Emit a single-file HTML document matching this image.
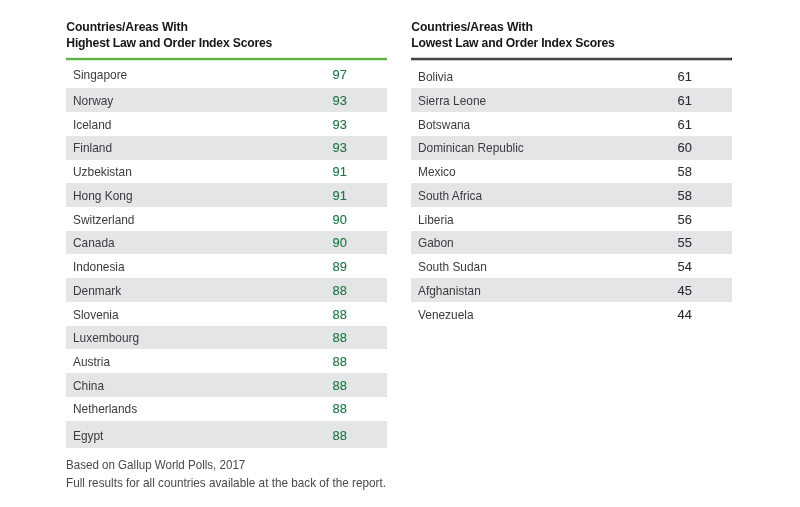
<!DOCTYPE html>
<html><head><meta charset="utf-8"><style>
html,body{margin:0;padding:0;background:#fff;}
body{width:800px;height:507px;position:relative;overflow:hidden;font-family:"Liberation Sans",Arial,sans-serif;}
.t{position:absolute;white-space:nowrap;font-size:12.4px;line-height:16px;}
.c,.f{transform:scaleX(0.96);transform-origin:0 0;}
.c{color:#3b3b3e;}
.n{font-size:12.9px;}
.g{color:#1c7545;-webkit-text-stroke:0.1px #1c7545;}
.k{color:#2d2d31;-webkit-text-stroke:0.08px #2d2d31;}
.h{font-weight:bold;color:#16161a;font-size:12.2px;}
.f{color:#4a4a4c;}
.band{position:absolute;background:#e4e5e7;}
.line{position:absolute;height:2px;}
</style></head><body>
<div class="t h" style="left:66.3px;top:19.00px;letter-spacing:-0.12px">Countries/Areas With</div>
<div class="t h" style="left:66.3px;top:35.20px;letter-spacing:-0.2px">Highest Law and Order Index Scores</div>
<div class="t h" style="left:411.3px;top:19.00px;letter-spacing:-0.12px">Countries/Areas With</div>
<div class="t h" style="left:411.3px;top:35.20px;letter-spacing:-0.2px">Lowest Law and Order Index Scores</div>
<div class="line" style="left:66px;top:57px;width:321px;height:4px;background:linear-gradient(#e2f1dd 0 25%,#5cb545 25% 75%,#d6ecd0 75%)"></div>
<div class="line" style="left:411px;top:57px;width:321px;height:4px;background:linear-gradient(#d2d2d5 0 25%,#45444a 25% 75%,#c6c6c9 75%)"></div>
<div class="line" style="left:731px;top:58px;width:1px;height:2px;background:#111"></div>
<div class="band" style="left:66px;top:88.40px;width:321px;height:23.73px"></div>
<div class="band" style="left:66px;top:135.86px;width:321px;height:23.73px"></div>
<div class="band" style="left:66px;top:183.32px;width:321px;height:23.73px"></div>
<div class="band" style="left:66px;top:230.78px;width:321px;height:23.73px"></div>
<div class="band" style="left:66px;top:278.24px;width:321px;height:23.73px"></div>
<div class="band" style="left:66px;top:325.70px;width:321px;height:23.73px"></div>
<div class="band" style="left:66px;top:373.16px;width:321px;height:23.73px"></div>
<div class="band" style="left:66px;top:420.62px;width:321px;height:27.88px"></div>
<div class="band" style="left:411px;top:88.40px;width:321px;height:23.73px"></div>
<div class="band" style="left:411px;top:135.86px;width:321px;height:23.73px"></div>
<div class="band" style="left:411px;top:183.32px;width:321px;height:23.73px"></div>
<div class="band" style="left:411px;top:230.78px;width:321px;height:23.73px"></div>
<div class="band" style="left:411px;top:278.24px;width:321px;height:23.73px"></div>
<div class="t c" style="left:72.60px;top:67.00px">Singapore</div>
<div class="t n g" style="left:332.60px;top:67.00px">97</div>
<div class="t c" style="left:72.60px;top:93.00px">Norway</div>
<div class="t n g" style="left:332.60px;top:93.00px">93</div>
<div class="t c" style="left:72.60px;top:117.00px">Iceland</div>
<div class="t n g" style="left:332.60px;top:117.00px">93</div>
<div class="t c" style="left:72.60px;top:140.00px">Finland</div>
<div class="t n g" style="left:332.60px;top:140.00px">93</div>
<div class="t c" style="left:72.60px;top:164.00px">Uzbekistan</div>
<div class="t n g" style="left:332.60px;top:164.00px">91</div>
<div class="t c" style="left:72.60px;top:188.00px">Hong Kong</div>
<div class="t n g" style="left:332.60px;top:188.00px">91</div>
<div class="t c" style="left:72.60px;top:212.00px">Switzerland</div>
<div class="t n g" style="left:332.60px;top:212.00px">90</div>
<div class="t c" style="left:72.60px;top:235.00px">Canada</div>
<div class="t n g" style="left:332.60px;top:235.00px">90</div>
<div class="t c" style="left:72.60px;top:259.00px">Indonesia</div>
<div class="t n g" style="left:332.60px;top:259.00px">89</div>
<div class="t c" style="left:72.60px;top:283.00px">Denmark</div>
<div class="t n g" style="left:332.60px;top:283.00px">88</div>
<div class="t c" style="left:72.60px;top:307.00px">Slovenia</div>
<div class="t n g" style="left:332.60px;top:307.00px">88</div>
<div class="t c" style="left:72.60px;top:330.00px">Luxembourg</div>
<div class="t n g" style="left:332.60px;top:330.00px">88</div>
<div class="t c" style="left:72.60px;top:354.00px">Austria</div>
<div class="t n g" style="left:332.60px;top:354.00px">88</div>
<div class="t c" style="left:72.60px;top:378.00px">China</div>
<div class="t n g" style="left:332.60px;top:378.00px">88</div>
<div class="t c" style="left:72.60px;top:401.00px">Netherlands</div>
<div class="t n g" style="left:332.60px;top:401.00px">88</div>
<div class="t c" style="left:72.60px;top:428.00px">Egypt</div>
<div class="t n g" style="left:332.60px;top:428.00px">88</div>
<div class="t c" style="left:418.20px;top:69.00px">Bolivia</div>
<div class="t n k" style="left:677.60px;top:69.00px">61</div>
<div class="t c" style="left:418.20px;top:93.00px">Sierra Leone</div>
<div class="t n k" style="left:677.60px;top:93.00px">61</div>
<div class="t c" style="left:418.20px;top:117.00px">Botswana</div>
<div class="t n k" style="left:677.60px;top:117.00px">61</div>
<div class="t c" style="left:418.20px;top:140.00px">Dominican Republic</div>
<div class="t n k" style="left:677.60px;top:140.00px">60</div>
<div class="t c" style="left:418.20px;top:164.00px">Mexico</div>
<div class="t n k" style="left:677.60px;top:164.00px">58</div>
<div class="t c" style="left:418.20px;top:188.00px">South Africa</div>
<div class="t n k" style="left:677.60px;top:188.00px">58</div>
<div class="t c" style="left:418.20px;top:212.00px">Liberia</div>
<div class="t n k" style="left:677.60px;top:212.00px">56</div>
<div class="t c" style="left:418.20px;top:235.00px">Gabon</div>
<div class="t n k" style="left:677.60px;top:235.00px">55</div>
<div class="t c" style="left:418.20px;top:259.00px">South Sudan</div>
<div class="t n k" style="left:677.60px;top:259.00px">54</div>
<div class="t c" style="left:418.20px;top:283.00px">Afghanistan</div>
<div class="t n k" style="left:677.60px;top:283.00px">45</div>
<div class="t c" style="left:418.20px;top:307.00px">Venezuela</div>
<div class="t n k" style="left:677.60px;top:307.00px">44</div>
<div class="t f" style="left:66.0px;top:457.20px;transform:scaleX(0.934)">Based on Gallup World Polls, 2017</div>
<div class="t f" style="left:66.0px;top:475.20px;transform:scaleX(0.948)">Full results for all countries available at the back of the report.</div>
</body></html>
